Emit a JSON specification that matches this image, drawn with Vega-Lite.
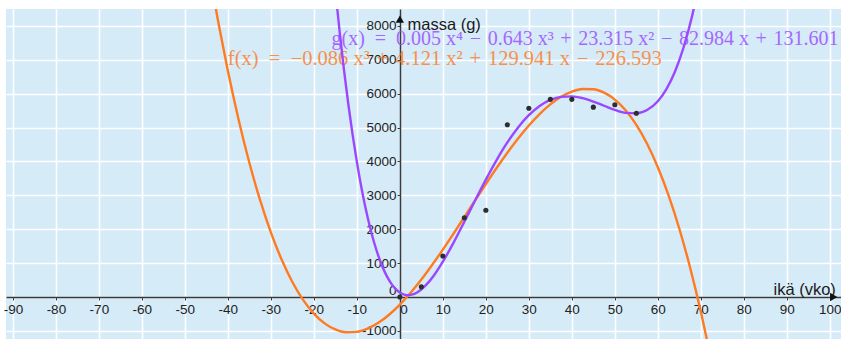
{
  "$schema": "https://vega.github.io/schema/vega-lite/v6.json",
  "width": 835,
  "height": 330,
  "autosize": {"type": "none"},
  "padding": {"left": 6, "top": 9, "right": 0, "bottom": 0},
  "background": "white",
  "config": {
    "view": {"fill": "#D5EBF8", "stroke": null},
    "axis": {
      "grid": true,
      "gridColor": "#FFFFFF",
      "gridWidth": 1.6,
      "gridOpacity": 1,
      "domainColor": "#3A3A3A",
      "domainWidth": 1.5,
      "tickColor": "#3A3A3A",
      "tickSize": 3,
      "labelFont": "Liberation Sans",
      "labelFontSize": 13.5,
      "labelColor": "#222222",
      "labelFlush": false,
      "labelOverlap": false,
      "labelBound": false,
      "titleFont": "Liberation Sans",
      "titleFontSize": 16.5,
      "titleFontWeight": "normal",
      "titleColor": "#1A1A1A"
    }
  },
  "datasets": {
    "curves": [
      {"fn": "f", "x": -44, "y": 9360}, {"fn": "f", "x": -43, "y": 8643}, {"fn": "f", "x": -42, "y": 7957},
      {"fn": "f", "x": -40, "y": 6673}, {"fn": "f", "x": -37.5, "y": 5231}, {"fn": "f", "x": -35, "y": 3961},
      {"fn": "f", "x": -32.5, "y": 2855}, {"fn": "f", "x": -30, "y": 1906}, {"fn": "f", "x": -27.5, "y": 1105},
      {"fn": "f", "x": -25, "y": 444}, {"fn": "f", "x": -22.5, "y": -84}, {"fn": "f", "x": -20, "y": -489},
      {"fn": "f", "x": -17.5, "y": -778}, {"fn": "f", "x": -15, "y": -958}, {"fn": "f", "x": -12.5, "y": -1039},
      {"fn": "f", "x": -10, "y": -1028}, {"fn": "f", "x": -7.5, "y": -933}, {"fn": "f", "x": -5, "y": -763},
      {"fn": "f", "x": -2.5, "y": -524}, {"fn": "f", "x": 0, "y": -227}, {"fn": "f", "x": 2.5, "y": 123},
      {"fn": "f", "x": 5, "y": 515}, {"fn": "f", "x": 7.5, "y": 944}, {"fn": "f", "x": 10, "y": 1399},
      {"fn": "f", "x": 12.5, "y": 1874}, {"fn": "f", "x": 15, "y": 2359}, {"fn": "f", "x": 17.5, "y": 2849},
      {"fn": "f", "x": 20, "y": 3333}, {"fn": "f", "x": 22.5, "y": 3804}, {"fn": "f", "x": 25, "y": 4254},
      {"fn": "f", "x": 27.5, "y": 4675}, {"fn": "f", "x": 30, "y": 5059}, {"fn": "f", "x": 32.5, "y": 5397},
      {"fn": "f", "x": 35, "y": 5682}, {"fn": "f", "x": 37.5, "y": 5906}, {"fn": "f", "x": 40, "y": 6061},
      {"fn": "f", "x": 42.5, "y": 6138}, {"fn": "f", "x": 45, "y": 6129}, {"fn": "f", "x": 47.5, "y": 6027},
      {"fn": "f", "x": 50, "y": 5823}, {"fn": "f", "x": 52.5, "y": 5509}, {"fn": "f", "x": 55, "y": 5078},
      {"fn": "f", "x": 57.5, "y": 4521}, {"fn": "f", "x": 60, "y": 3830}, {"fn": "f", "x": 62.5, "y": 2996},
      {"fn": "f", "x": 65, "y": 2013}, {"fn": "f", "x": 67.5, "y": 872}, {"fn": "f", "x": 70, "y": -436},
      {"fn": "f", "x": 72.5, "y": -1918},
      {"fn": "g", "x": -15, "y": 9049}, {"fn": "g", "x": -14, "y": 7822}, {"fn": "g", "x": -13, "y": 6708},
      {"fn": "g", "x": -12, "y": 5701}, {"fn": "g", "x": -11, "y": 4795}, {"fn": "g", "x": -10, "y": 3986},
      {"fn": "g", "x": -9, "y": 3269}, {"fn": "g", "x": -8, "y": 2638}, {"fn": "g", "x": -7, "y": 2088},
      {"fn": "g", "x": -6, "y": 1614}, {"fn": "g", "x": -5, "y": 1213}, {"fn": "g", "x": -4, "y": 879},
      {"fn": "g", "x": -3, "y": 608}, {"fn": "g", "x": -2, "y": 396}, {"fn": "g", "x": -1, "y": 239},
      {"fn": "g", "x": 0, "y": 132}, {"fn": "g", "x": 1, "y": 71}, {"fn": "g", "x": 2, "y": 54},
      {"fn": "g", "x": 3, "y": 76}, {"fn": "g", "x": 4, "y": 133}, {"fn": "g", "x": 6, "y": 341},
      {"fn": "g", "x": 8, "y": 651}, {"fn": "g", "x": 10, "y": 1041}, {"fn": "g", "x": 12.5, "y": 1605},
      {"fn": "g", "x": 15, "y": 2219}, {"fn": "g", "x": 17.5, "y": 2848}, {"fn": "g", "x": 20, "y": 3464},
      {"fn": "g", "x": 22.5, "y": 4040}, {"fn": "g", "x": 25, "y": 4559}, {"fn": "g", "x": 27.5, "y": 5003},
      {"fn": "g", "x": 30, "y": 5363}, {"fn": "g", "x": 32.5, "y": 5633}, {"fn": "g", "x": 35, "y": 5813},
      {"fn": "g", "x": 37.5, "y": 5905}, {"fn": "g", "x": 40, "y": 5918}, {"fn": "g", "x": 42.5, "y": 5866},
      {"fn": "g", "x": 45, "y": 5766}, {"fn": "g", "x": 47.5, "y": 5642}, {"fn": "g", "x": 50, "y": 5520},
      {"fn": "g", "x": 52.5, "y": 5433}, {"fn": "g", "x": 55, "y": 5419}, {"fn": "g", "x": 57.5, "y": 5517},
      {"fn": "g", "x": 60, "y": 5776}, {"fn": "g", "x": 62, "y": 6133}, {"fn": "g", "x": 64, "y": 6653},
      {"fn": "g", "x": 66, "y": 7367}, {"fn": "g", "x": 68, "y": 8307}, {"fn": "g", "x": 69, "y": 8873}
    ],
    "points": [
      {"x": 0, "y": 0}, {"x": 5, "y": 300}, {"x": 10, "y": 1210}, {"x": 15, "y": 2340},
      {"x": 20, "y": 2560}, {"x": 25, "y": 5080}, {"x": 30, "y": 5570}, {"x": 35, "y": 5830},
      {"x": 40, "y": 5830}, {"x": 45, "y": 5600}, {"x": 50, "y": 5670}, {"x": 55, "y": 5420}
    ],
    "eqs": [
      {"fn": "g", "x": -15.9, "y": 7434, "size": "s", "label": "g(x)\u2002=\u20020.005 x\u2074\u2004\u2212\u20040.643 x\u00b3\u2004+\u200423.315 x\u00b2\u2004\u2212\u200482.984 x\u2004+\u2004131.601"},
      {"fn": "f", "x": -40, "y": 6844, "size": "l", "label": "f(x)\u2002=\u2002\u22120.086 x\u00b3\u2004+\u20044.121 x\u00b2\u2004+\u2004129.941 x\u2004\u2212\u2004226.593"}
    ],
    "arrows": [
      {"x": 0, "y": 8200, "dir": "up"},
      {"x": 100.9, "y": 0, "dir": "right"}
    ]
  },
  "encoding": {
    "x": {
      "field": "x",
      "type": "quantitative",
      "scale": {"domain": [-91.6, 102.6], "nice": false, "zero": false},
      "axis": {
        "values": [-90, -80, -70, -60, -50, -40, -30, -20, -10, 0, 10, 20, 30, 40, 50, 60, 70, 80, 90, 100],
        "offset": -42,
        "labelExpr": "'' + datum.value",
        "labelPadding": 2,
        "labelAlign": {"condition": {"test": "datum.value === 0", "value": "left"}, "value": "center"},
        "title": "ikä (vko)",
        "titleX": 767,
        "titleY": -8,
        "titleAlign": "left",
        "titleBaseline": "middle"
      }
    },
    "y": {
      "field": "y",
      "type": "quantitative",
      "scale": {"domain": [-1239, 8496], "nice": false, "zero": false},
      "axis": {
        "values": [-1000, 0, 1000, 2000, 3000, 4000, 5000, 6000, 7000, 8000],
        "offset": -394,
        "labelExpr": "'' + datum.value",
        "labelPadding": 1,
        "labelBaseline": {"condition": {"test": "datum.value === 0", "value": "bottom"}, "value": "middle"},
        "title": "massa (g)",
        "titleAngle": 0,
        "titleX": 7,
        "titleY": 15,
        "titleAlign": "left",
        "titleBaseline": "middle"
      }
    }
  },
  "layer": [
    {
      "data": {"name": "eqs"},
      "mark": {"type": "text", "align": "left", "baseline": "alphabetic", "font": "Liberation Serif", "opacity": 0.8},
      "encoding": {
        "text": {"field": "label", "type": "nominal"},
        "size": {"field": "size", "type": "nominal", "scale": {"domain": ["s", "l"], "range": [20, 20.5]}, "legend": null},
        "color": {"field": "fn", "type": "nominal", "scale": {"domain": ["f", "g"], "range": ["#FF7A21", "#9B47FF"]}, "legend": null}
      }
    },
    {
      "data": {"name": "curves"},
      "mark": {"type": "line", "clip": true, "strokeWidth": 2.4, "interpolate": "monotone"},
      "encoding": {
        "color": {"field": "fn", "type": "nominal", "scale": {"domain": ["f", "g"], "range": ["#FF7A21", "#9B47FF"]}, "legend": null}
      }
    },
    {
      "data": {"name": "points"},
      "mark": {"type": "point", "filled": true, "color": "#2E2E2E", "size": 26, "opacity": 1}
    },
    {
      "data": {"name": "arrows"},
      "mark": {"type": "point", "filled": true, "color": "#111111", "size": 70, "opacity": 1, "clip": false},
      "encoding": {
        "shape": {"field": "dir", "type": "nominal", "scale": {"domain": ["up", "right"], "range": ["triangle-up", "triangle-right"]}, "legend": null}
      }
    }
  ]
}
